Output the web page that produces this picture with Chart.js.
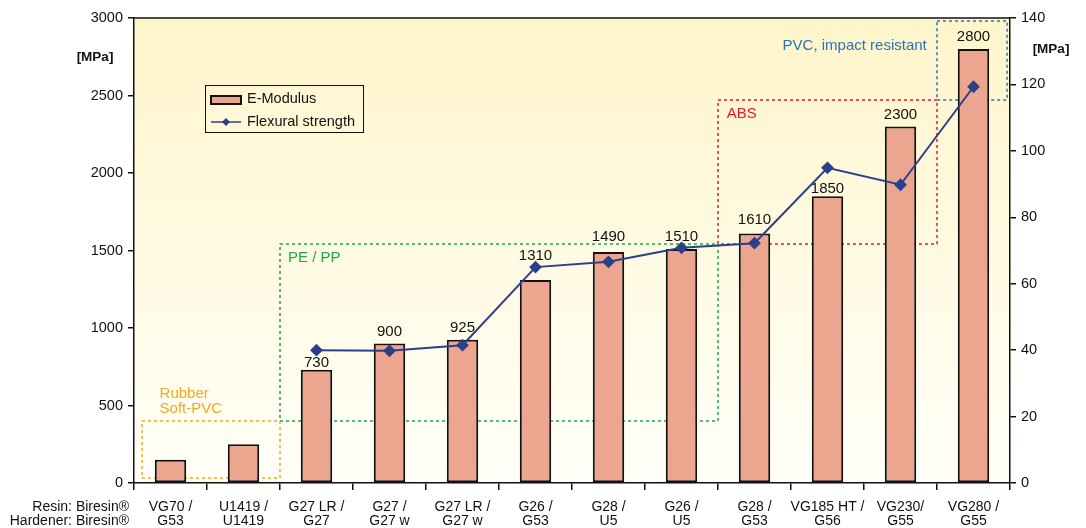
<!DOCTYPE html>
<html>
<head>
<meta charset="utf-8">
<script src="https://cdn.jsdelivr.net/npm/chart.js@4/dist/chart.umd.min.js"></script>
<style>
  html, body { margin: 0; padding: 0; background: #ffffff; }
  #wrap { width: 1086px; height: 528px; }
</style>
</head>
<body>
<div id="wrap"><canvas id="chart" width="1086" height="528"></canvas></div>
<script>
// data
const resins = ['VG70 /', 'U1419 /', 'G27 LR /', 'G27 /', 'G27 LR /', 'G26 /', 'G28 /', 'G26 /', 'G28 /', 'VG185 HT /', 'VG230/', 'VG280 /'];
const hardeners = ['G53', 'U1419', 'G27', 'G27 w', 'G27 w', 'G53', 'U5', 'U5', 'G53', 'G56', 'G55', 'G55'];
const eModulus = [150, 250, 730, 900, 925, 1310, 1490, 1510, 1610, 1850, 2300, 2800];
const flexural = [null, null, 40, 39.8, 41.5, 65, 66.6, 70.8, 72.2, 94.9, 89.8, 119.3];
const showValue = [false, false, true, true, true, true, true, true, true, true, true, true];
const leftTicks = [0, 500, 1000, 1500, 2000, 2500, 3000];
const rightTicks = [0, 20, 40, 60, 80, 100, 120, 140];

// extra lift (px) for value labels that would sit on the line
const labelLift = [0, 0, -5, 0, 0, 12, 3, 0, 2, -5, 0, 0];

// material groups, drawn as dotted boxes (x in category index, y on left axis)
const groups = [
    { x0: -0.39, x1: 1.5, y0: 32, y1: 400, color: '#f4a81d' },
    { x0: 1.5, x1: 7.5, y0: 400, y1: 1542, color: '#1ea84c' },
    { x0: 7.5, x1: 10.5, y0: 1542, y1: 2471, color: '#e8192c' },
    { x0: 10.5, x1: 11.46, y0: 2471, y1: 2981, color: '#2a72b8' }
];
const groupLabels = [
    { text: 'Rubber', x: -0.15, y: 575, color: '#f4a81d', align: 'left' },
    { text: 'Soft-PVC', x: -0.15, y: 478, color: '#f4a81d', align: 'left' },
    { text: 'PE / PP', x: 1.61, y: 1450, color: '#1ea84c', align: 'left' },
    { text: 'ABS', x: 7.62, y: 2380, color: '#e8192c', align: 'left' },
    { text: 'PVC, impact resistant', x: 10.36, y: 2820, color: '#2a72b8', align: 'right' }
];

const barColor = '#eca690';
const lineColor = '#2b3f8c';
const FONT = '"Liberation Sans", Arial, sans-serif';

const decor = {
    id: 'decor',
    beforeDraw(chart) {
        const { ctx, chartArea: a } = chart;
        const g = ctx.createLinearGradient(0, a.top, 0, a.bottom);
        g.addColorStop(0, '#fff5cb');
        g.addColorStop(1, '#fffff8');
        ctx.save();
        ctx.fillStyle = g;
        ctx.fillRect(a.left, a.top, a.right - a.left, a.bottom - a.top);
        ctx.restore();
    },
    beforeDatasetsDraw(chart) {
        const { ctx, scales } = chart;
        const x = scales.x, y = scales.y;
        const step = x.getPixelForValue(1) - x.getPixelForValue(0);
        const px = v => x.getPixelForValue(0) + v * step;
        ctx.save();
        ctx.lineWidth = 1.5;
        ctx.setLineDash([3, 3]);
        groups.forEach(b => {
            ctx.strokeStyle = b.color;
            const l = px(b.x0), r = px(b.x1), t = y.getPixelForValue(b.y1), bt = y.getPixelForValue(b.y0);
            ctx.strokeRect(l, t, r - l, bt - t);
        });
        ctx.setLineDash([]);
        ctx.font = '15px ' + FONT;
        ctx.textBaseline = 'middle';
        groupLabels.forEach(t => {
            ctx.fillStyle = t.color;
            ctx.textAlign = t.align;
            ctx.fillText(t.text, px(t.x), y.getPixelForValue(t.y));
        });
        ctx.restore();
    },
    afterDraw(chart) {
        const { ctx, chartArea: a } = chart;
        ctx.save();
        // top border
        ctx.strokeStyle = '#111';
        ctx.lineWidth = 1.5;
        ctx.beginPath();
        ctx.moveTo(a.left, a.top);
        ctx.lineTo(a.right, a.top);
        ctx.stroke();

        // values above bars
        const meta = chart.getDatasetMeta(1);
        ctx.fillStyle = '#111';
        ctx.font = '15px ' + FONT;
        ctx.textAlign = 'center';
        ctx.textBaseline = 'middle';
        meta.data.forEach((bar, i) => {
            if (showValue[i]) ctx.fillText(String(eModulus[i]), bar.x, bar.y - 12 - labelLift[i]);
        });

        // axis units
        ctx.font = 'bold 13.5px ' + FONT;
        ctx.fillText('[MPa]', 95, 57);
        ctx.fillText('[MPa]', 1051, 49);

        // row titles under the x axis
        ctx.font = '14px ' + FONT;
        ctx.textAlign = 'right';
        ctx.fillText('Resin: Biresin\u00ae', 129, 507);
        ctx.fillText('Hardener: Biresin\u00ae', 129, 521);

        // legend
        const lx = 205, ly = 85;
        ctx.fillStyle = '#fff7d6';
        ctx.fillRect(lx, ly, 159, 48);
        ctx.strokeStyle = '#111';
        ctx.lineWidth = 1;
        ctx.strokeRect(lx + 0.5, ly + 0.5, 158, 47);
        ctx.fillStyle = barColor;
        ctx.fillRect(lx + 6, ly + 11, 30, 8);
        ctx.lineWidth = 2;
        ctx.strokeRect(lx + 6, ly + 11, 30, 8);
        ctx.lineWidth = 1.5;
        ctx.strokeStyle = lineColor;
        ctx.beginPath();
        ctx.moveTo(lx + 6, ly + 37);
        ctx.lineTo(lx + 36, ly + 37);
        ctx.stroke();
        ctx.fillStyle = lineColor;
        ctx.beginPath();
        ctx.moveTo(lx + 21, ly + 33);
        ctx.lineTo(lx + 25, ly + 37);
        ctx.lineTo(lx + 21, ly + 41);
        ctx.lineTo(lx + 17, ly + 37);
        ctx.closePath();
        ctx.fill();
        ctx.fillStyle = '#111';
        ctx.font = '14.5px ' + FONT;
        ctx.textAlign = 'left';
        ctx.fillText('E-Modulus', lx + 42, ly + 14);
        ctx.fillText('Flexural strength', lx + 42, ly + 37);
        ctx.restore();
    }
};

const ctx = document.getElementById('chart').getContext('2d');
const chart = new Chart(ctx, {
    data: {
        labels: resins.map((r, i) => [r, hardeners[i]]),
        datasets: [{
            type: 'line',
            label: 'Flexural strength',
            data: flexural,
            yAxisID: 'y1',
            borderColor: lineColor,
            backgroundColor: lineColor,
            borderWidth: 2,
            pointStyle: 'rectRot',
            pointRadius: 5,
            pointHoverRadius: 5,
            tension: 0,
            order: 0
        }, {
            type: 'bar',
            label: 'E-Modulus',
            data: eModulus,
            yAxisID: 'y',
            backgroundColor: barColor,
            borderColor: '#111',
            borderWidth: 2,
            borderSkipped: false,
            barPercentage: 0.43,
            categoryPercentage: 1,
            order: 1
        }]
    },
    options: {
        responsive: false,
        animation: false,
        layout: { padding: { top: 18, left: 0, right: 0, bottom: 0 } },
        plugins: { legend: { display: false }, tooltip: { enabled: false } },
        scales: {
            x: {
                offset: true,
                grid: { offset: true, drawOnChartArea: false, drawTicks: true, tickLength: 7, color: '#111', lineWidth: 1.5 },
                border: { display: true, color: '#111', width: 1.5 },
                ticks: { color: '#111', font: { family: FONT, size: 14, lineHeight: 1 }, padding: 10, maxRotation: 0, autoSkip: false },
                afterFit(s) { s.height = 45; }
            },
            y: {
                position: 'left',
                min: 0, max: 3000,
                afterBuildTicks(s) { s.ticks = leftTicks.map(v => ({ value: v })); },
                grid: { drawOnChartArea: false, drawTicks: true, tickLength: 6, color: '#111', lineWidth: 1.5 },
                border: { display: true, color: '#111', width: 1.5 },
                ticks: { color: '#111', font: { family: FONT, size: 14.5 }, padding: 5, callback: v => String(v) },
                afterFit(s) { s.width = 134; }
            },
            y1: {
                position: 'right',
                min: 0, max: 140,
                afterBuildTicks(s) { s.ticks = rightTicks.map(v => ({ value: v })); },
                grid: { drawOnChartArea: false, drawTicks: true, tickLength: 6, color: '#111', lineWidth: 1.5 },
                border: { display: true, color: '#111', width: 1.5 },
                ticks: { color: '#111', font: { family: FONT, size: 14.5 }, padding: 5, callback: v => String(v) },
                afterFit(s) { s.width = 76; }
            }
        }
    },
    plugins: [decor]
});
</script>
</body>
</html>
